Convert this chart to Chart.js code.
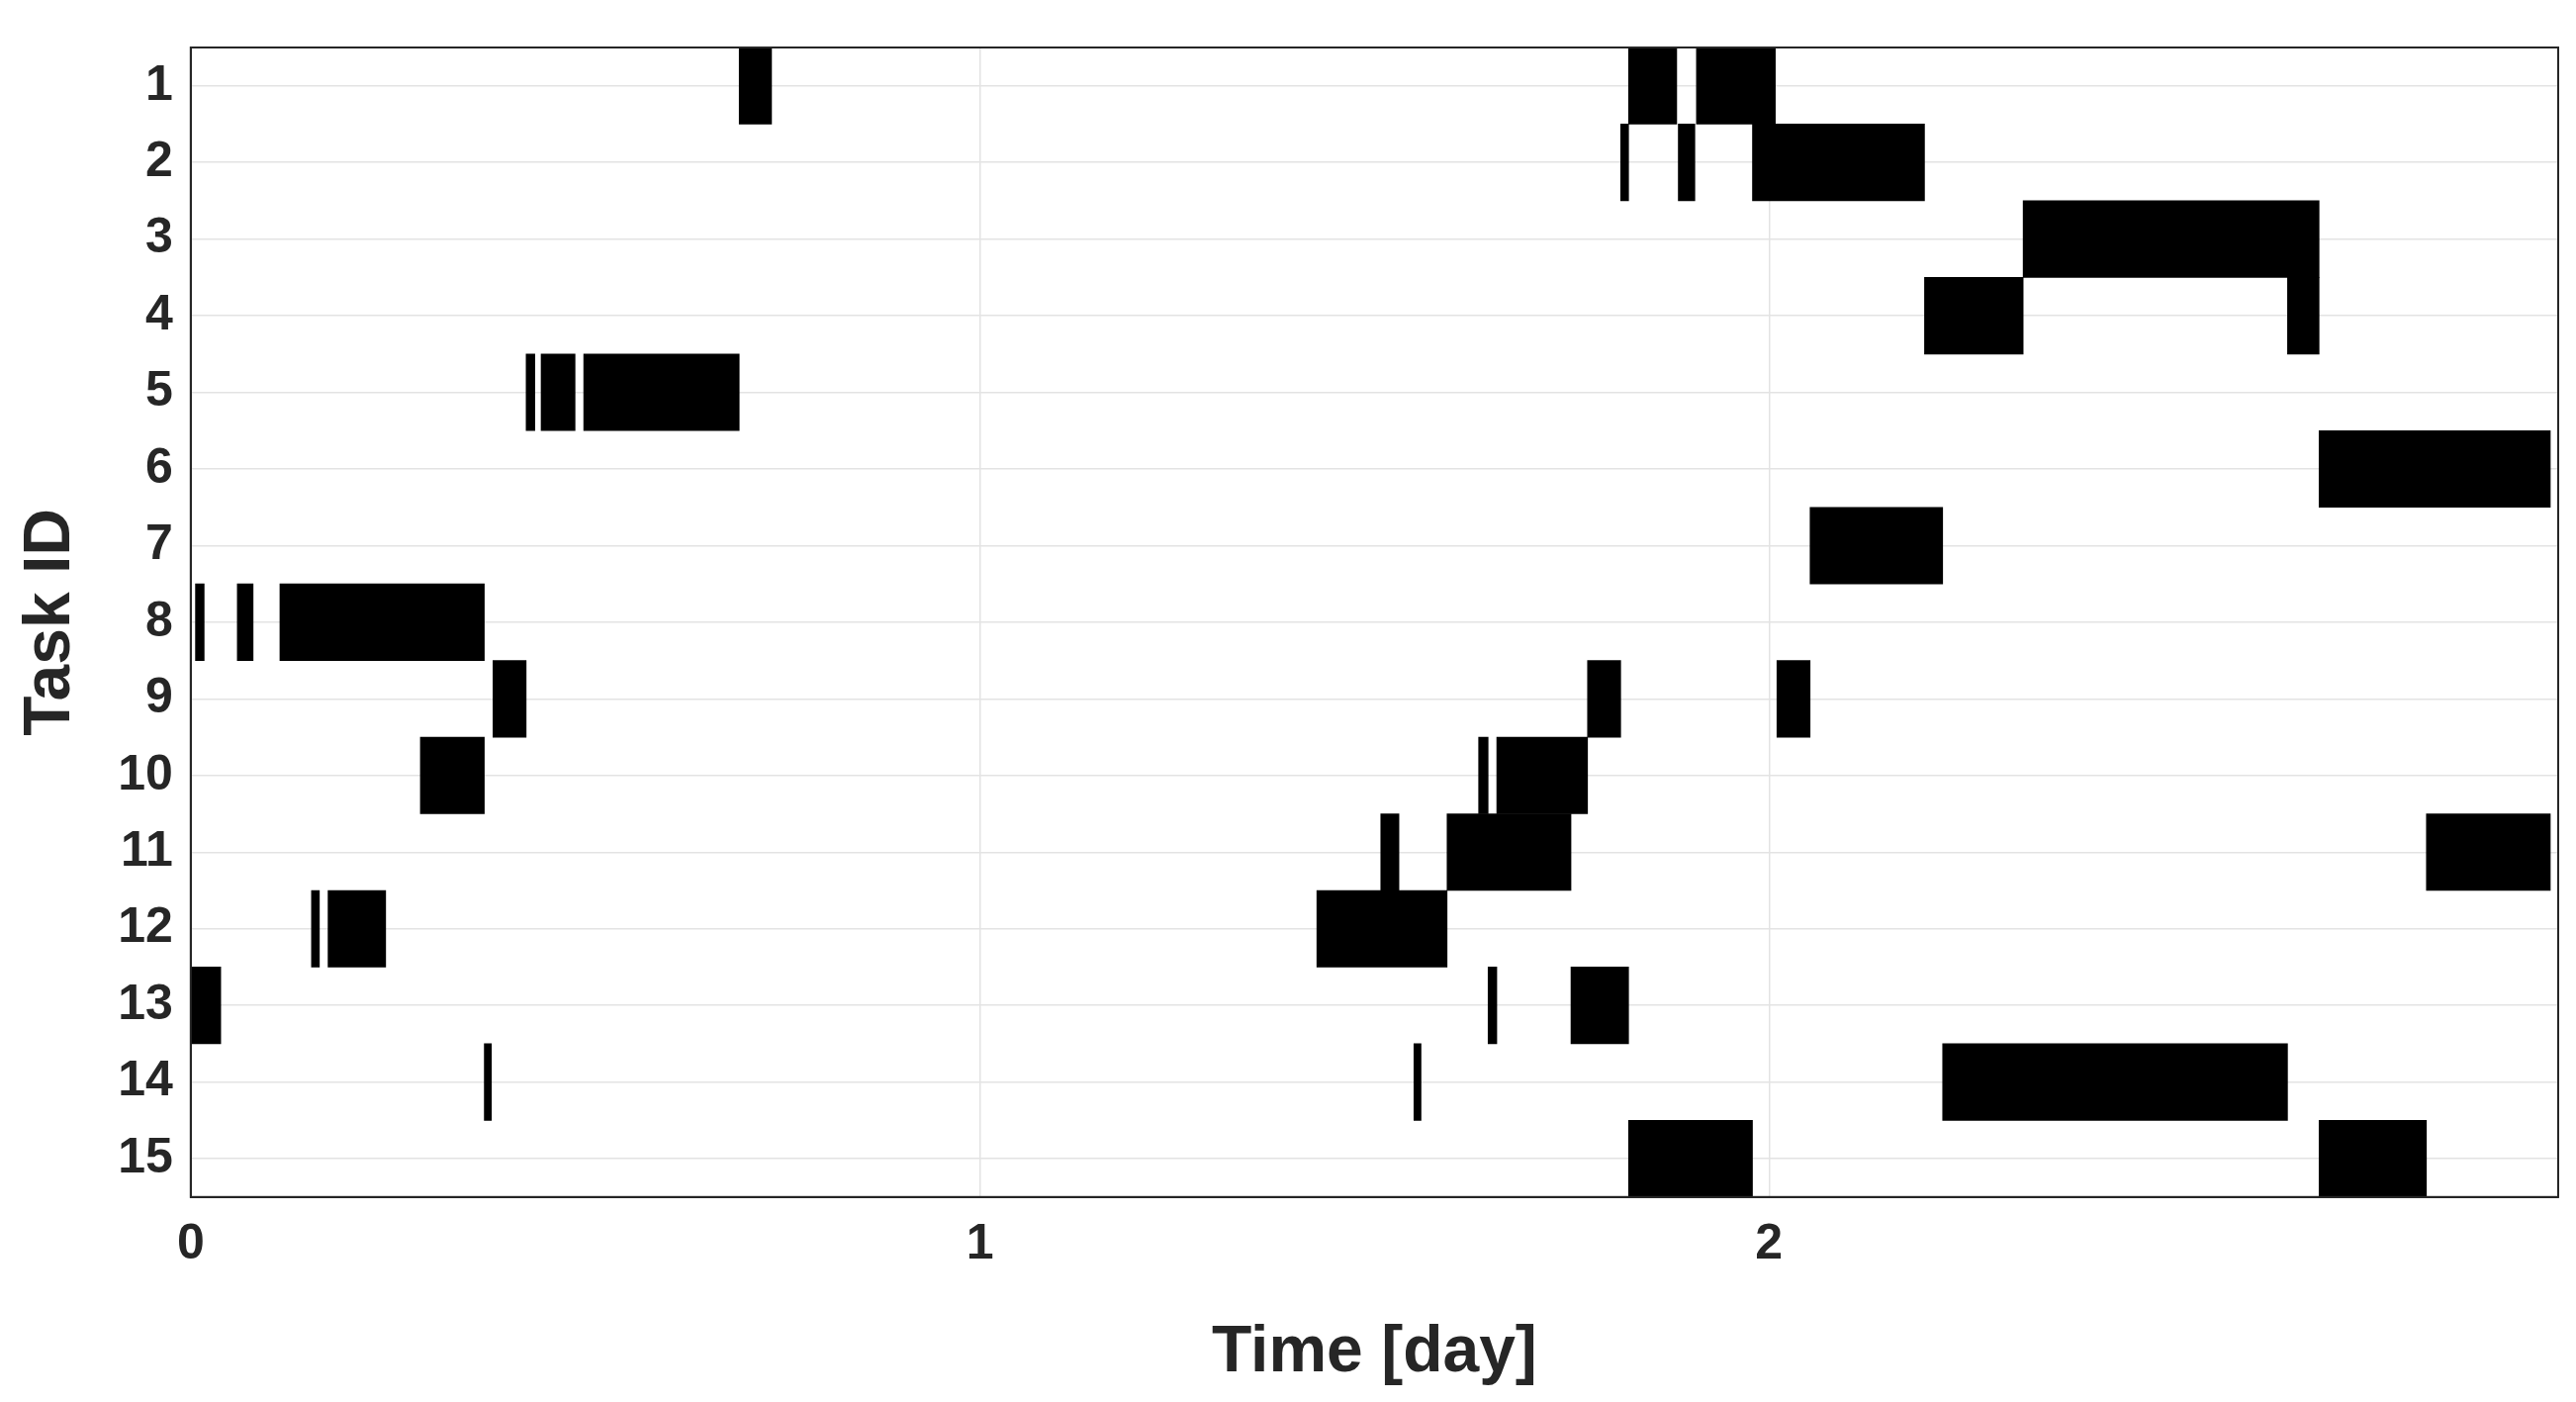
<!DOCTYPE html>
<html>
<head>
<meta charset="utf-8">
<script src="https://cdn.jsdelivr.net/npm/chart.js@4/dist/chart.umd.min.js"></script>
<style>
  html, body { margin: 0; padding: 0; background: #fff; }
  #wrap { width: 2604px; height: 1417px; }
</style>
</head>
<body>
<div id="wrap"><canvas id="gantt"></canvas></div>
<script>
// Task IDs (rows, top to bottom)
const taskIds = ['1','2','3','4','5','6','7','8','9','10','11','12','13','14','15'];

// Busy intervals in days, one list per task: [start, end]
const seg1  = [[0.695, 0.736], [1.822, 1.883], [1.908, 2.008]];
const seg2  = [[1.812, 1.822], [1.885, 1.906], [1.979, 2.197]];
const seg3  = [[2.322, 2.697]];
const seg4  = [[2.197, 2.322], [2.657, 2.697]];
const seg5  = [[0.425, 0.436], [0.444, 0.487], [0.498, 0.695]];
const seg6  = [[2.697, 2.990]];
const seg7  = [[2.052, 2.220]];
const seg8  = [[0.006, 0.017], [0.059, 0.079], [0.113, 0.372]];
const seg9  = [[0.383, 0.425], [1.770, 1.812], [2.010, 2.052]];
const seg10 = [[0.291, 0.372], [1.632, 1.644], [1.655, 1.770]];
const seg11 = [[1.508, 1.531], [1.592, 1.749], [2.833, 2.990]];
const seg12 = [[0.153, 0.163], [0.174, 0.247], [1.427, 1.592]];
const seg13 = [[0.000, 0.038], [1.644, 1.655], [1.749, 1.822]];
const seg14 = [[0.372, 0.381], [1.550, 1.559], [2.220, 2.657]];
const seg15 = [[1.822, 1.979], [2.697, 2.833]];

const segments = [seg1, seg2, seg3, seg4, seg5, seg6, seg7, seg8, seg9, seg10, seg11, seg12, seg13, seg14, seg15];
const xTicks = [0, 1, 2];

const TEXT = '#262626';

// one dataset per segment slot so bars on the same row can overlap
const datasets = [0, 1, 2].map(slot => ({
  data: segments
    .map((list, i) => list[slot] ? { x: list[slot], y: taskIds[i] } : null)
    .filter(Boolean),
  backgroundColor: '#000',
  borderWidth: 0,
  barPercentage: 1,
  categoryPercentage: 1,
  grouped: false
}));

new Chart(document.getElementById('gantt'), {
  type: 'bar',
  data: { labels: taskIds, datasets },
  options: {
    indexAxis: 'y',
    responsive: true,
    maintainAspectRatio: false,
    animation: false,
    layout: { padding: { top: 24, right: 14, bottom: 6, left: 8 } },
    plugins: { legend: { display: false }, tooltip: { enabled: false } },
    scales: {
      x: {
        type: 'linear',
        min: 0,
        max: 3,
        afterBuildTicks: axis => { axis.ticks = xTicks.concat([3]).map(v => ({ value: v })); },
        grid: { color: '#e3e3e3', lineWidth: 1.5, drawTicks: false },
        border: { color: TEXT, width: 2 },
        ticks: {
          color: TEXT, padding: 18,
          font: { family: 'Liberation Sans', size: 50, weight: 'bold' },
          callback: v => (xTicks.includes(v) ? v : '')
        },
        title: {
          display: true, text: 'Time [day]', color: TEXT, padding: { top: 22 },
          font: { family: 'Liberation Sans', size: 66, weight: 'bold' }
        }
      },
      y: {
        grid: { color: '#e3e3e3', lineWidth: 1.5, offset: false, drawTicks: false },
        border: { color: TEXT, width: 2 },
        ticks: {
          color: TEXT, padding: 18,
          font: { family: 'Liberation Sans', size: 50, weight: 'bold' }
        },
        title: {
          display: true, text: 'Task ID', color: TEXT, padding: { bottom: 10 },
          font: { family: 'Liberation Sans', size: 66, weight: 'bold' }
        }
      }
    }
  },
  plugins: [{
    id: 'frame',
    afterDraw(chart) {
      const { ctx, chartArea: a } = chart;
      ctx.save();
      ctx.strokeStyle = TEXT;
      ctx.lineWidth = 2;
      ctx.strokeRect(a.left, a.top, a.right - a.left, a.bottom - a.top);
      ctx.restore();
    }
  }]
});
</script>
</body>
</html>
